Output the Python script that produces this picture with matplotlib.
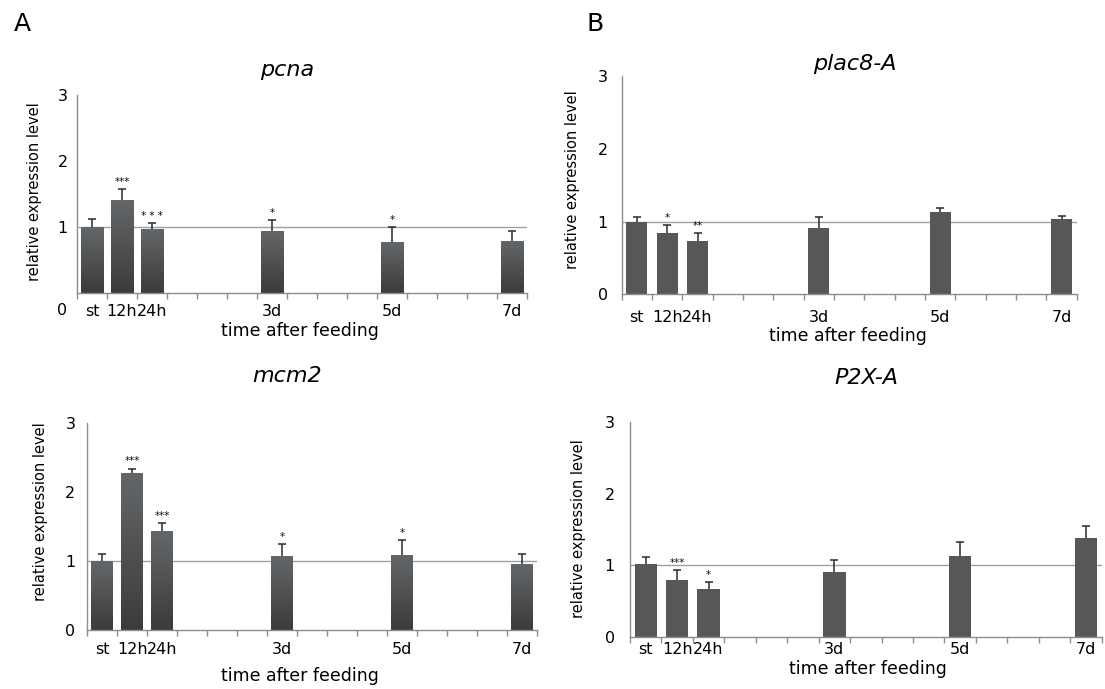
import numpy as np
import matplotlib
matplotlib.use('Agg')
import matplotlib.pyplot as plt
from matplotlib.colors import LinearSegmentedColormap

# ---------------- data ----------------
time_labels = ['st', '12h', '24h', '3d', '5d', '7d']
time_hours = [0, 12, 24, 72, 120, 168]
slot_hours = 12
n_slots = 15

pcna_mean = [1.00, 1.41, 0.97, 0.94, 0.77, 0.79]
pcna_err = [0.12, 0.16, 0.09, 0.16, 0.23, 0.15]
pcna_sig = ['', '***', '* * *', '*', '*', '']

plac8_mean = [1.00, 0.85, 0.74, 0.92, 1.13, 1.04]
plac8_err = [0.07, 0.11, 0.11, 0.15, 0.06, 0.04]
plac8_sig = ['', '*', '**', '', '', '']

mcm2_mean = [1.00, 2.27, 1.43, 1.07, 1.09, 0.96]
mcm2_err = [0.10, 0.07, 0.12, 0.18, 0.21, 0.14]
mcm2_sig = ['', '***', '***', '*', '*', '']

p2x_mean = [1.02, 0.80, 0.67, 0.91, 1.13, 1.38]
p2x_err = [0.10, 0.13, 0.10, 0.16, 0.20, 0.17]
p2x_sig = ['', '***', '*', '', '', '']

y_ticks = [0, 1, 2, 3]
reference_level = 1

# ---------------- layout ----------------
W, H, DPI = 1105, 689, 100
plt.rcParams['font.family'] = ['DejaVu Sans']

fig = plt.figure(figsize=(W / DPI, H / DPI), dpi=DPI)


def fx(x):
    return x / W


def fy(y):
    return 1 - y / H


grad_cmap = LinearSegmentedColormap.from_list('g', ['#3b3b3d', '#646769'])

panels = [
    dict(name='pcna', mean=pcna_mean, err=pcna_err, sig=pcna_sig,
         box=(77, 527, 95, 293), grad=True, width=0.75,
         title_xy=(287, 70), ylab_xy=(35, 192), xlab_xy=(300, 331),
         ypad=6.5, xpad=8, zero_low=True),
    dict(name='plac8-A', mean=plac8_mean, err=plac8_err, sig=plac8_sig,
         box=(621.7, 1076.7, 76.5, 294.3), grad=False, width=0.70,
         title_xy=(855, 64), ylab_xy=(572, 180), xlab_xy=(848, 336),
         ypad=10, xpad=11, zero_low=False),
    dict(name='mcm2', mean=mcm2_mean, err=mcm2_err, sig=mcm2_sig,
         box=(87.3, 537.3, 423, 630), grad=True, width=0.73,
         title_xy=(287, 376), ylab_xy=(40, 512), xlab_xy=(300, 676),
         ypad=8.5, xpad=8.5, zero_low=False),
    dict(name='P2X-A', mean=p2x_mean, err=p2x_err, sig=p2x_sig,
         box=(630, 1101.7, 421.6, 637.3), grad=False, width=0.71,
         title_xy=(866, 378), ylab_xy=(579, 529), xlab_xy=(868, 669),
         ypad=11, xpad=3.5, zero_low=False),
]

spine_col = '#8e8e8e'
xpos = [h / slot_hours for h in time_hours]

for p in panels:
    l, r, t, b = p['box']
    ax = fig.add_axes([fx(l), fy(b), fx(r - l), (b - t) / H])
    ax.set_xlim(-0.5, n_slots - 0.5)
    ax.set_ylim(0, 3)

    ax.axhline(reference_level, color='#a0a0a0', lw=1.0, zorder=0.5)

    ax.errorbar(xpos, p['mean'], yerr=p['err'], fmt='none',
                ecolor='#2a2a2a', elinewidth=1.1, capsize=3.2,
                capthick=1.1, zorder=1)

    if p['grad']:
        bars = ax.bar(xpos, p['mean'], width=p['width'], color='#505254',
                      zorder=2, linewidth=0)
        grad = np.linspace(0, 1, 256).reshape(-1, 1)
        for bar in bars:
            x0 = bar.get_x()
            im = ax.imshow(grad, extent=(x0, x0 + bar.get_width(), 0,
                                         bar.get_height()),
                           origin='lower', aspect='auto', cmap=grad_cmap,
                           zorder=2.1, interpolation='bilinear')
            im.set_clip_path(bar)
        ax.set_xlim(-0.5, n_slots - 0.5)
        ax.set_ylim(0, 3)
    else:
        ax.bar(xpos, p['mean'], width=p['width'], color='#575757',
               zorder=2, linewidth=0)

    for x, m, e, s in zip(xpos, p['mean'], p['err'], p['sig']):
        if s:
            ax.annotate(s, (x, m + e), xytext=(0, 1.5),
                        textcoords='offset points', ha='center',
                        va='bottom', fontsize=7.5, color='#111111')

    for side in ['top', 'right']:
        ax.spines[side].set_visible(False)
    for side in ['left', 'bottom']:
        ax.spines[side].set_color(spine_col)
        ax.spines[side].set_linewidth(1.0)

    # x ticks: boundaries as major ticks, labels on minor ticks
    ax.set_xticks(np.arange(-0.5, n_slots, 1.0))
    ax.set_xticklabels([])
    ax.tick_params(axis='x', which='major', length=4, width=1,
                   color=spine_col, direction='out')
    ax.set_xticks(xpos, minor=True)
    ax.set_xticklabels(time_labels, minor=True, fontsize=11.5)
    ax.tick_params(axis='x', which='minor', length=0, pad=p['xpad'])

    ax.set_yticks(y_ticks)
    ylabels = [str(v) for v in y_ticks]
    if p['zero_low']:
        ylabels[0] = ''
    ax.set_yticklabels(ylabels, fontsize=11.5)
    ax.tick_params(axis='y', length=0, pad=p['ypad'])

    if p['zero_low']:
        fig.text(fx(l - 15), fy(311), '0', ha='center', va='center',
                 fontsize=11.5)

    fig.text(fx(p['title_xy'][0]), fy(p['title_xy'][1]), p['name'],
             ha='center', va='center', fontsize=16, style='italic')
    fig.text(fx(p['ylab_xy'][0]), fy(p['ylab_xy'][1]),
             'relative expression level', rotation=90, ha='center',
             va='center', fontsize=10.5)
    fig.text(fx(p['xlab_xy'][0]), fy(p['xlab_xy'][1]), 'time after feeding',
             ha='center', va='center', fontsize=12.5)

fig.text(fx(22), fy(24), 'A', ha='center', va='center', fontsize=18)
fig.text(fx(595), fy(24), 'B', ha='center', va='center', fontsize=18)

fig.savefig('out.png', dpi=DPI)
